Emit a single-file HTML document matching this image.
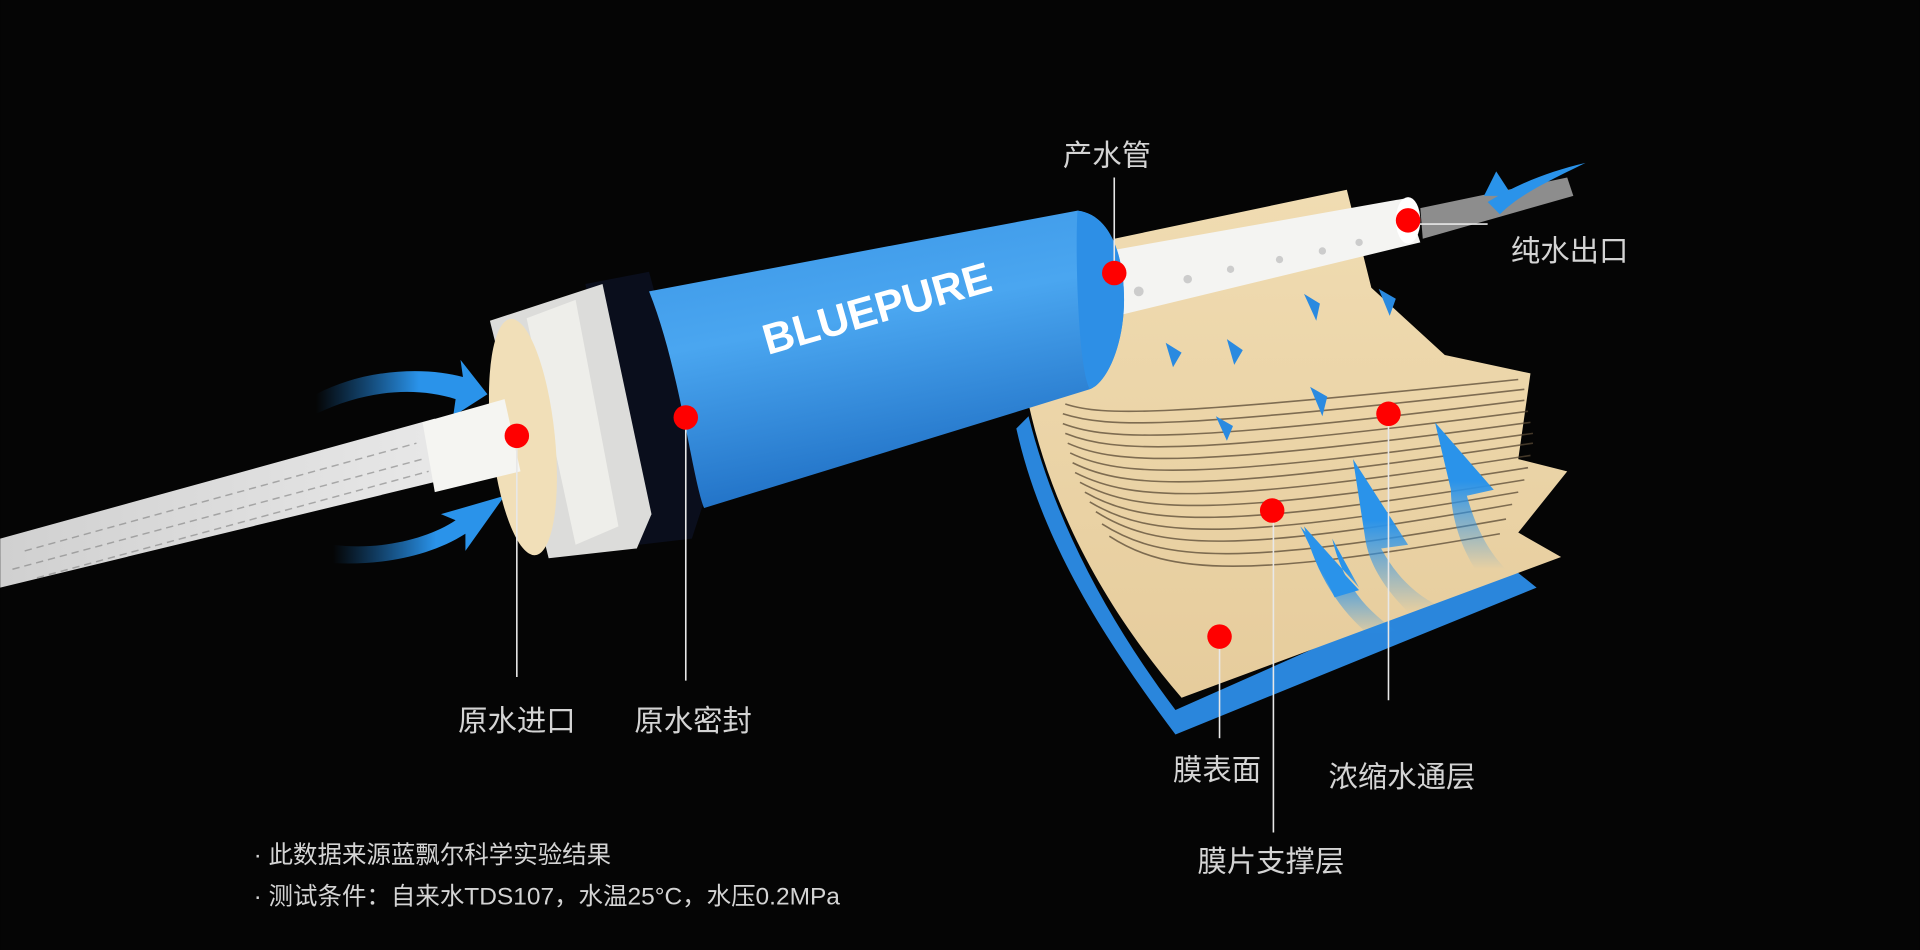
<!DOCTYPE html>
<html><head><meta charset="utf-8"><style>
html,body{margin:0;padding:0;background:#050505;width:1920px;height:950px;overflow:hidden}
svg{display:block}
text{font-family:"Liberation Sans","Noto Sans CJK SC",sans-serif}
</style></head><body>
<svg width="1920" height="950" viewBox="0 0 1568 776" xmlns="http://www.w3.org/2000/svg">
<defs>
<linearGradient id="blue" x1="0" y1="0" x2="0.3" y2="1">
<stop offset="0" stop-color="#3a95e6"/><stop offset="0.45" stop-color="#4aa6f0"/><stop offset="1" stop-color="#1f6fc4"/></linearGradient>
<linearGradient id="fib" x1="0" y1="0" x2="1" y2="0">
<stop offset="0" stop-color="#d0d0d0"/><stop offset="1" stop-color="#e8e8e8"/></linearGradient>
<linearGradient id="arr" x1="0" y1="0" x2="1" y2="0">
<stop offset="0" stop-color="#1a7fd8" stop-opacity="0"/><stop offset="0.6" stop-color="#2a93ea"/><stop offset="1" stop-color="#2a93ea"/></linearGradient>
<linearGradient id="arrv" x1="0" y1="1" x2="0" y2="0">
<stop offset="0" stop-color="#2a93ea" stop-opacity="0"/><stop offset="0.6" stop-color="#2a93ea"/><stop offset="1" stop-color="#2a93ea"/></linearGradient>
<linearGradient id="cream" x1="0" y1="0" x2="0" y2="1">
<stop offset="0" stop-color="#f0dcb2"/><stop offset="1" stop-color="#e6cc9c"/></linearGradient>
</defs>
<rect width="1568" height="776" fill="#050505"/>

<polygon points="0,440 355,342 362,392 0,480" fill="url(#fib)"/>
<g stroke="#777" stroke-width="1.2" opacity="0.55" stroke-dasharray="6 4">
<line x1="20" y1="450" x2="340" y2="362"/><line x1="10" y1="465" x2="345" y2="375"/><line x1="30" y1="472" x2="350" y2="385"/></g>

<path d="M258,322 C300,300 350,300 378,308 L376,294 L398,322 L370,340 L372,326 C340,316 300,318 258,338 Z" fill="url(#arr)"/>
<path d="M272,445 C310,450 350,440 372,425 L360,420 L412,405 L380,450 L380,436 C350,455 310,462 272,460 Z" fill="url(#arr)"/>

<polygon points="478,232 530,222 578,400 565,440 522,445" fill="#0a0e1c"/>
<polygon points="400,262 492,232 532,420 520,448 448,456" fill="#dcdcda"/>
<polygon points="430,260 470,245 505,430 470,445" fill="#eeeeea"/>
<ellipse cx="427" cy="357" rx="26" ry="97" fill="#f1dfb8" transform="rotate(-6 427 357)"/>
<polygon points="345,345 412,326 425,385 355,402" fill="#f5f5f2"/>

<path d="M830,350 C850,440 900,520 960,600 L1255,480 L1230,460 L960,580 C900,500 860,420 840,340 Z" fill="#2a86dc"/>
<path d="M840,330 C860,420 905,500 965,570 L1275,455 L1240,435 L1280,385 L1240,375 L1250,305 L1180,290 L1120,235 L1100,155 L910,195 Z" fill="url(#cream)"/>
<g fill="none" stroke="#5a4a35" stroke-width="1.3" opacity="0.75">
<path d="M870,330 C900,340 950,340 1240,310"/>
<path d="M868,338 C905,350 960,350 1245,318"/>
<path d="M868,346 C905,360 965,362 1245,327"/>
<path d="M870,354 C910,370 970,372 1248,336"/>
<path d="M872,362 C912,380 975,382 1250,345"/>
<path d="M874,370 C915,390 980,392 1252,354"/>
<path d="M876,378 C920,400 985,402 1252,362"/>
<path d="M878,386 C925,410 990,412 1250,372"/>
<path d="M882,394 C930,420 995,422 1248,382"/>
<path d="M886,402 C935,430 1000,432 1245,392"/>
<path d="M890,410 C940,440 1005,442 1240,402"/>
<path d="M895,418 C945,450 1010,452 1235,412"/>
<path d="M900,428 C950,460 1015,462 1230,424"/>
<path d="M906,438 C955,470 1020,472 1225,436"/>
</g>
<polygon points="905,205 1148,162 1160,198 912,258" fill="#f4f4f2"/>
<ellipse cx="1150" cy="180" rx="10" ry="19" fill="#ffffff"/>
<polygon points="1160,170 1280,145 1285,160 1162,195" fill="#c8c8c8" opacity="0.7"/>
<g fill="#ccc"><circle cx="930" cy="238" r="4"/><circle cx="970" cy="228" r="3.5"/><circle cx="1005" cy="220" r="3"/><circle cx="1045" cy="212" r="3"/><circle cx="1080" cy="205" r="3"/><circle cx="1110" cy="198" r="3"/></g>
<path d="M1215,165 C1240,150 1265,140 1295,133 C1260,150 1240,160 1225,175 Z" fill="#2a93ea"/>
<path d="M1212,160 L1222,140 L1235,160 Z" fill="#2a93ea"/>

<g fill="#2a8ae0">
<path d="M958,300 L952,280 L965,288 Z"/><path d="M1008,298 L1002,277 L1015,286 Z"/>
<path d="M1075,262 L1065,240 L1078,248 Z"/><path d="M1135,258 L1126,236 L1140,244 Z"/>
<path d="M1080,340 L1070,316 L1084,324 Z"/><path d="M1002,360 L993,340 L1007,348 Z"/>
</g>
<path d="M1065,430 C1075,470 1095,500 1120,520 L1140,515 C1110,495 1095,470 1088,440 L1110,480 Z" fill="url(#arrv)"/>
<path d="M1062,430 L1110,482 L1090,488 Z" fill="#2a93ea"/>
<path d="M1105,375 L1150,445 L1128,448 C1140,470 1155,485 1175,495 L1150,500 C1130,480 1118,460 1115,440 Z" fill="url(#arrv)"/>
<path d="M1172,345 L1220,400 L1198,405 C1205,430 1215,450 1230,465 L1205,465 C1192,445 1185,420 1185,400 Z" fill="url(#arrv)"/>

<path d="M530,238 L880,172 C905,175 918,205 918,245 C918,280 905,312 890,318 L575,415 C565,390 555,300 530,238 Z" fill="url(#blue)"/>
<path d="M880,172 C905,175 918,205 918,245 C918,280 905,312 890,318 C880,300 878,200 880,172 Z" fill="#2d8fe6"/>
<text x="627" y="290" font-size="35" font-weight="bold" fill="#fff" transform="rotate(-16 627 290)">BLUEPURE</text>

<g stroke="#e8e8e8" stroke-width="1.3">
<line x1="422" y1="356" x2="422" y2="553"/>
<line x1="560" y1="341" x2="560" y2="556"/>
<line x1="910" y1="145" x2="910" y2="223"/>
<line x1="1150" y1="183" x2="1215" y2="183"/>
<line x1="1134" y1="338" x2="1134" y2="572"/>
<line x1="1040" y1="417" x2="1040" y2="680"/>
<line x1="996" y1="520" x2="996" y2="603"/>
</g>
<g fill="#ff0000">
<circle cx="422" cy="356" r="10"/><circle cx="560" cy="341" r="10"/><circle cx="910" cy="223" r="10"/>
<circle cx="1150" cy="180" r="10"/><circle cx="1134" cy="338" r="10"/><circle cx="1039" cy="417" r="10"/><circle cx="996" cy="520" r="10"/>
</g>

<g fill="#d4d4d4" font-size="24">
<text x="422" y="597" text-anchor="middle">原水进口</text>
<text x="566" y="597" text-anchor="middle">原水密封</text>
<text x="904" y="135" text-anchor="middle">产水管</text>
<text x="1234" y="213">纯水出口</text>
<text x="958" y="637">膜表面</text>
<text x="1085" y="643">浓缩水通层</text>
<text x="978" y="712">膜片支撑层</text>
</g>
<g fill="#d4d4d4" font-size="20">
<text x="207" y="705">· 此数据来源蓝飘尔科学实验结果</text>
<text x="207" y="739">· 测试条件：自来水TDS107，水温25°C，水压0.2MPa</text>
</g>
</svg>
</body></html>
